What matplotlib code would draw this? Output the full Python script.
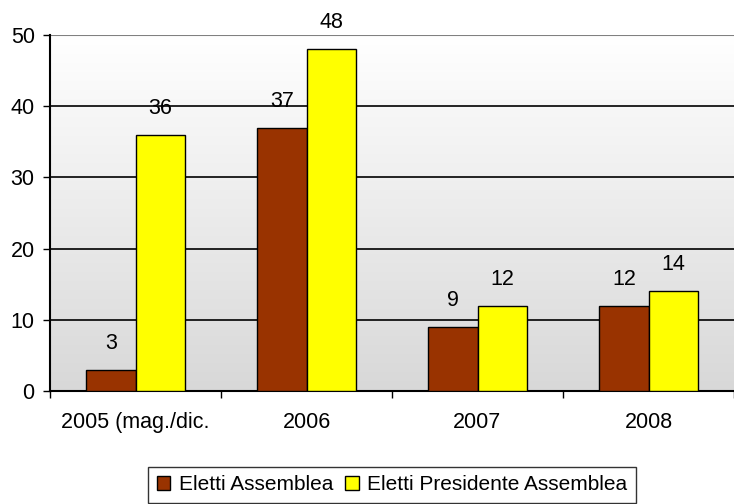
import numpy as np
import matplotlib.pyplot as plt

categories = ['2005 (mag./dic.', '2006', '2007', '2008']
eletti_assemblea = [3, 37, 9, 12]
eletti_presidente = [36, 48, 12, 14]
series_names = ['Eletti Assemblea', 'Eletti Presidente Assemblea']

plt.rcParams['font.family'] = ['Liberation Sans', 'DejaVu Sans']

fig = plt.figure(figsize=(7.34, 5.04), dpi=100)
ax = fig.add_axes([50 / 734, 113 / 504, 684 / 734, 356 / 504])

# gradient background, white on top to light gray
grad = np.linspace(0, 1, 256).reshape(-1, 1)
ax.imshow(grad, extent=[0, 1, 0, 1], transform=ax.transAxes, aspect='auto',
          cmap=plt.matplotlib.colors.LinearSegmentedColormap.from_list(
              'bg', ['#ffffff', '#d8d8d8']), zorder=0)

x = np.arange(len(categories))
w = 0.287
b1 = ax.bar(x - w / 2, eletti_assemblea, w, color='#993300', edgecolor='black',
            linewidth=1, label=series_names[0], zorder=3)
b2 = ax.bar(x + w / 2, eletti_presidente, w, color='#ffff00', edgecolor='black',
            linewidth=1, label=series_names[1], zorder=3)

for bars, vals in ((b1, eletti_assemblea), (b2, eletti_presidente)):
    for r, v in zip(bars, vals):
        ax.annotate(str(v), (r.get_x() + r.get_width() / 2, v), xytext=(0, 19),
                    textcoords='offset points', ha='center', va='center',
                    fontsize=15.5, zorder=4)

ax.set_xlim(-0.5, len(categories) - 0.5)
ax.set_ylim(0, 50)
ax.set_yticks(range(0, 51, 10))
ax.yaxis.grid(True, color='black', linewidth=1.2, zorder=1)
ax.set_axisbelow(True)
ax.axhline(50, color='#808080', linewidth=1.5, zorder=2)

ax.set_xticks(x)
ax.set_xticklabels(categories)
ax.set_xticks(np.arange(len(categories) + 1) - 0.5, minor=True)
ax.tick_params(axis='x', which='major', length=0, pad=15, labelsize=15.5)
ax.tick_params(axis='x', which='minor', length=5, width=1, color='black')
ax.tick_params(axis='y', length=5, width=1, pad=6, labelsize=15.5)

for s in ('top', 'right'):
    ax.spines[s].set_visible(False)
ax.spines['left'].set_linewidth(1.5)
ax.spines['bottom'].set_linewidth(1.5)

leg = ax.legend(loc='upper center', bbox_to_anchor=(0.5, -0.2135), ncol=2,
                fontsize=15, frameon=True, fancybox=False, shadow=False,
                handlelength=0.65, handleheight=0.65, handletextpad=0.4,
                columnspacing=0.6, borderpad=0.4, borderaxespad=0)
leg.get_frame().set_edgecolor('black')
leg.get_frame().set_linewidth(1)

fig.savefig('out.png', dpi=100)
